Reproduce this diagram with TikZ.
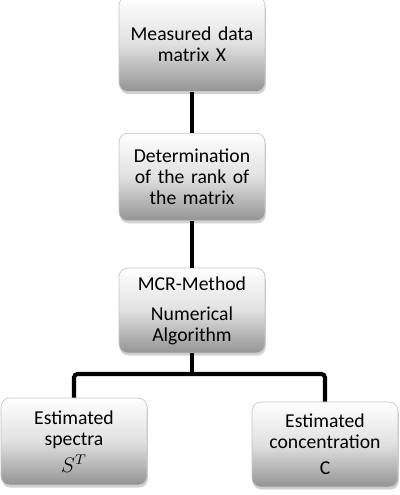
\documentclass[tikz,border=0pt]{standalone}
\usepackage{fontspec}
\setmainfont{Carlito}
\usetikzlibrary{shadows}
\begin{document}
\begin{tikzpicture}[x=0.02cm, y=-0.02cm]
\tikzstyle{box}=[draw=gray!45, rounded corners=5pt, top color=white, bottom color=black!42,
  middle color=black!12, minimum width=2.9cm, minimum height=1.75cm, text width=2.85cm,
  align=center, font=\fontsize{11.2}{12}\selectfont, inner sep=1pt,
  drop shadow={shadow xshift=0.5pt, shadow yshift=-1.5pt, fill=black!35}]
\tikzstyle{link}=[line width=2.3pt, black]
\useasboundingbox (0,0) rectangle (400,495);

\node[box, minimum height=1.9cm] (X) at (192,44) {Measured data\\matrix X};
\node[box] (R) at (192,177) {Determination\\of the rank of\\the matrix};
\node[box, minimum height=1.7cm] (A) at (192,310.5) {MCR-Method\\[5pt]Numerical\\Algorithm};
\node[box, minimum height=1.74cm] (S) at (74,441.5) {Estimated\\spectra\\[3pt]\large$S^T$};
\node[box, minimum height=1.7cm] (C) at (325,444.5) {Estimated\\concentration\\[3pt]C};
\coordinate (J) at (192,374);

\draw[link] (X) -- (R);
\draw[link] (R) -- (A);
\draw[link] (A) -- (J);
\draw[link, rounded corners=2pt] (J) -| (S);
\draw[link, rounded corners=2pt] (J) -| (C);
\end{tikzpicture}
\end{document}
